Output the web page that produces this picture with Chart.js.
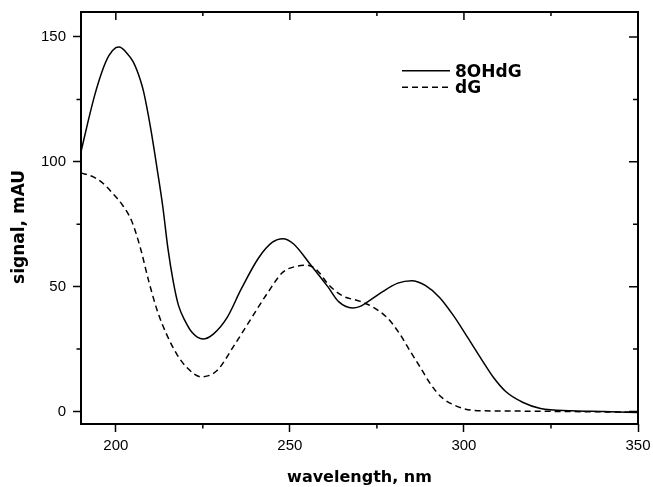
<!DOCTYPE html>
<html>
<head>
<meta charset="utf-8">
<script src="https://cdn.jsdelivr.net/npm/chart.js@4.4.0/dist/chart.umd.min.js"></script>
<style>
  html, body { margin: 0; padding: 0; background: #fff; }
</style>
</head>
<body>
<canvas id="uvChart" width="653" height="487"></canvas>
<script>
// values
var wl8OHdG = [190,192,194,196,198,200,201,203,205,207,208,210,212,213.5,215,216.5,218,220,222,225,
               228,232,236,241,245,248,251,256,261,264,268,270,272,276,281,285,289,293,297,301,
               305,308.5,312,317,322,331,340,350];
var sig8OHdG = [104,116,127,136,142.5,145.7,146,143.8,140,133,128,113.5,96,82,65,52,42.5,36,31.5,29,
                31,37.7,49,61.5,67.8,69.2,67.2,58.7,49.8,44,41.5,42,43.6,47.4,51.4,52.4,50.4,45.7,38.4,29.8,
                21,13.6,8,3.6,1.2,0.3,0,-0.4];

var wlDG = [190,193,196,199,202,204.5,207,209.5,212,214.5,217.5,220.5,224.5,229,234,238.5,243.5,248,252,255,
            258,261,265,270,274,278,281.5,284.5,287.5,290.5,293.5,297,302.5,312,330,350];
var sigDG = [95.5,94.3,91.8,87.5,82.5,76.5,65.8,52,40,31.2,23,17.5,13.9,16.3,26.5,36.4,47.3,55.8,58.2,58.6,
             56.3,51,46.4,44.2,41.7,37.5,31.2,24.3,17.6,10.8,5.8,2.7,0.5,0.2,0,-0.3];

var seriesNames = ["8OHdG", "dG"];
var xTicks = [200, 250, 300, 350];
var xMinor = [225, 275, 325];
var yTicks = [0, 50, 100, 150];
var yMinor = [25, 75, 125];

function toPoints(xs, ys) {
  return xs.map(function (v, i) { return {x: v, y: ys[i]}; });
}

// frame, inner ticks, minor ticks and the legend box inside the plot
const frameTicks = {
  id: 'frameTicks',
  afterDatasetsDraw(chart) {
    const ctx = chart.ctx;
    const a = chart.chartArea;
    const x = chart.scales.x, y = chart.scales.y;
    ctx.save();
    ctx.strokeStyle = '#000';
    ctx.lineWidth = 1.5;
    ctx.beginPath();
    xTicks.forEach(v => {
      const px = x.getPixelForValue(v);
      ctx.moveTo(px, a.top); ctx.lineTo(px, a.top + 8);
    });
    xMinor.forEach(v => {
      const px = x.getPixelForValue(v);
      ctx.moveTo(px, a.top); ctx.lineTo(px, a.top + 4);
      ctx.moveTo(px, a.bottom); ctx.lineTo(px, a.bottom + 4.5);
    });
    yTicks.forEach(v => {
      const py = y.getPixelForValue(v);
      ctx.moveTo(a.right, py); ctx.lineTo(a.right - 9, py);
    });
    yMinor.forEach(v => {
      const py = y.getPixelForValue(v);
      ctx.moveTo(a.right, py); ctx.lineTo(a.right - 5, py);
      ctx.moveTo(a.left, py); ctx.lineTo(a.left - 4.5, py);
    });
    ctx.stroke();
    ctx.lineWidth = 2;
    ctx.strokeRect(a.left, a.top, a.right - a.left, a.bottom - a.top);

    // legend
    ctx.font = 'bold 17px "DejaVu Sans"';
    ctx.fillStyle = '#000';
    ctx.textBaseline = 'alphabetic';
    chart.data.datasets.forEach((ds, i) => {
      const ly = a.top + 58.7 + i * 16.6;
      ctx.lineWidth = 1.4;
      ctx.setLineDash(ds.borderDash || []);
      ctx.beginPath();
      ctx.moveTo(a.left + 321, ly);
      ctx.lineTo(a.left + 369, ly);
      ctx.stroke();
      ctx.setLineDash([]);
      ctx.fillText(ds.label, a.left + 374, ly + 6);
    });
    ctx.restore();
  }
};

new Chart("uvChart", {
  type: "line",
  data: {
    datasets: [{
      label: seriesNames[0],
      data: toPoints(wl8OHdG, sig8OHdG),
      borderColor: "#000",
      borderWidth: 1.5,
      pointRadius: 0,
      cubicInterpolationMode: "monotone"
    }, {
      label: seriesNames[1],
      data: toPoints(wlDG, sigDG),
      borderColor: "#000",
      borderWidth: 1.5,
      borderDash: [6, 4],
      pointRadius: 0,
      cubicInterpolationMode: "monotone"
    }]
  },
  options: {
    responsive: false,
    animation: false,
    layout: { padding: { top: 12, right: 15, left: 0, bottom: 0 } },
    plugins: { legend: { display: false }, tooltip: { enabled: false } },
    scales: {
      x: {
        type: "linear",
        min: 190, max: 350,
        afterBuildTicks: s => { s.ticks = xTicks.map(v => ({value: v})); },
        afterFit: s => { s.height = 63; s.paddingLeft = 0; s.paddingRight = 0; },
        grid: { drawOnChartArea: false, tickLength: 8, tickWidth: 1.5, tickColor: "#000" },
        border: { display: false },
        ticks: { color: "#000", padding: 5, maxRotation: 0, font: { family: "Liberation Sans", size: 15 } },
        title: { display: true, text: "wavelength, nm", color: "#000", padding: { top: 0, bottom: 0 },
                 font: { family: "DejaVu Sans", size: 16, weight: "bold" } }
      },
      y: {
        min: -5, max: 160,
        afterBuildTicks: s => { s.ticks = yTicks.map(v => ({value: v})); },
        afterFit: s => { s.width = 81; s.paddingTop = 0; s.paddingBottom = 0; },
        grid: { drawOnChartArea: false, tickLength: 8, tickWidth: 1.5, tickColor: "#000" },
        border: { display: false },
        ticks: { color: "#000", padding: 7, font: { family: "Liberation Sans", size: 15 } },
        title: { display: true, text: "signal, mAU   ", color: "#000", padding: { top: 9, bottom: 0 },
                 font: { family: "DejaVu Sans", size: 17, weight: "bold" } }
      }
    }
  },
  plugins: [frameTicks]
});
</script>
</body>
</html>
